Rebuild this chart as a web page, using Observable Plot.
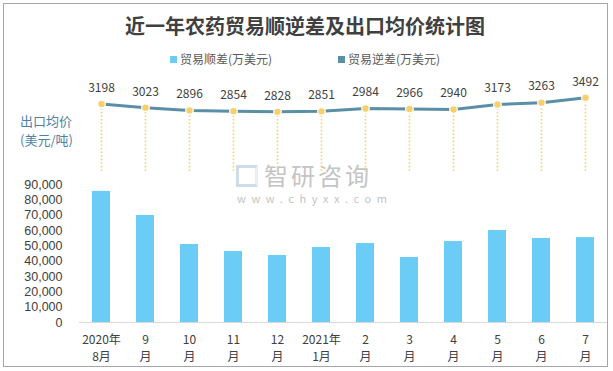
<!DOCTYPE html>
<html><head><meta charset="utf-8">
<script src="https://cdn.jsdelivr.net/npm/d3@7"></script>
<script src="https://cdn.jsdelivr.net/npm/@observablehq/plot@0.6"></script>
<style>
body{margin:0;background:#fff;font-family:"Noto Sans CJK SC","Noto Sans",sans-serif;}
#wrap{position:relative;width:613px;height:371px;overflow:hidden;background:#fff;}
.frame{position:absolute;left:3px;top:3px;width:603px;height:362px;border:1px solid #a6a6a6;}
.abs{position:absolute;white-space:nowrap;}
#title{left:0;width:610px;top:12px;text-align:center;font-size:20px;font-weight:bold;color:#404040;line-height:28px;}
.leg{font-size:12px;color:#595959;line-height:16px;}
.sw{display:inline-block;width:7px;height:7px;margin-right:3px;vertical-align:1px;}
.ylab{font-size:13px;color:#4d82a4;line-height:18px;left:20px;}
.wm1{font-size:24px;color:#c4c4c4;letter-spacing:3px;line-height:28px;}
.wm2{font-size:11px;color:#c4c4c4;letter-spacing:5.6px;line-height:14px;}
.plotbox{position:absolute;left:0;}
.plotbox svg{overflow:visible;}
</style></head>
<body>
<div id="wrap">
  <div class="frame"></div>
  <div id="title" class="abs">近一年农药贸易顺逆差及出口均价统计图</div>
  <div id="legend"></div>
  <div class="abs ylab" style="top:112px">出口均价</div>
  <div class="abs ylab" style="top:131px">(美元/吨)</div>
  <div class="abs wm1" style="left:264px;top:161px">智研咨询</div>
  <div class="abs wm2" style="left:237px;top:191px">www.chyxx.com</div>
  <div class="abs" style="left:236px;top:165px;width:22px;height:22px;border:3px solid #d0dbe6;border-right-color:#e8eef3;box-sizing:border-box;"></div>
  <div id="bars" class="plotbox" style="top:165px"></div>
  <div id="line" class="plotbox" style="top:70px"></div>
</div>
<script>
const months = ["2020年\n8月","9\n月","10\n月","11\n月","12\n月","2021年\n1月","2\n月","3\n月","4\n月","5\n月","6\n月","7\n月"];
const surplus = [85500, 69800, 50900, 46300, 43700, 48900, 51500, 42400, 52800, 60000, 54800, 55400];
const price = [3198, 3023, 2896, 2854, 2828, 2851, 2984, 2966, 2940, 3173, 3263, 3492];
const yTicks = [0,10000,20000,30000,40000,50000,60000,70000,80000,90000];
const seriesNames = ["贸易顺差(万美元)", "贸易逆差(万美元)"];
const seriesColors = ["#6BCDF5", "#5B8FA8"];

const data = months.map((m, i) => ({month: m, surplus: surplus[i], price: price[i]}));

// legend
const legPos = [170, 338];
document.getElementById("legend").innerHTML = seriesNames.map((n, i) =>
  `<div class="abs leg" style="left:${legPos[i]}px;top:51px"><span class="sw" style="background:${seriesColors[i]}"></span>${n}</div>`
).join("");

const font = '"Noto Sans CJK SC","Noto Sans",sans-serif';

const barPlot = Plot.plot({
  width: 613, height: 206,
  marginTop: 19, marginBottom: 49, marginLeft: 79, marginRight: 6,
  x: {type: "band", domain: months, paddingInner: 0.59, paddingOuter: 0.295, axis: null},
  y: {domain: [0, 90000], axis: null},
  style: {fontFamily: font, fontSize: "12px", color: "#404040", background: "transparent"},
  marks: [
    Plot.barY(data, {x: "month", y: "surplus", fill: seriesColors[0]}),
    Plot.ruleY([0], {stroke: "#d9d9d9", strokeWidth: 1.2}),
    Plot.axisY({ticks: yTicks, tickSize: 0, tickPadding: 17, tickFormat: d3.format(","), fontSize: 12.5, fontFamily: '"Liberation Sans",Arial,sans-serif', fill: "#404040", label: null}),
    Plot.axisX({tickSize: 0, tickPadding: 9, fontSize: 12, lineHeight: 1.46, fill: "#404040", label: null})
  ]
});
document.getElementById("bars").appendChild(barPlot);

const linePlot = Plot.plot({
  width: 613, height: 105,
  marginTop: 16.6, marginBottom: 4, marginLeft: 79, marginRight: 6,
  x: {type: "point", domain: months, padding: 0.5, axis: null},
  y: {domain: [0, 4000], axis: null},
  style: {fontFamily: font, fontSize: "12px", color: "#404040", background: "transparent"},
  marks: [
    Plot.ruleX(data, {x: "month", y1: 0, y2: "price", stroke: "#F8D06B", strokeWidth: 1.6, strokeDasharray: "1.6,2"}),
    Plot.line(data, {x: "month", y: "price", stroke: seriesColors[1], strokeWidth: 3}),
    Plot.dot(data, {x: "month", y: "price", r: 3.8, fill: "#F8D06B", stroke: "#fff", strokeWidth: 1.2}),
    Plot.text(data, {x: "month", y: "price", text: d => String(d.price), dy: -16, fontSize: 12, fill: "#404040"})
  ]
});
document.getElementById("line").appendChild(linePlot);
</script>
</body></html>
